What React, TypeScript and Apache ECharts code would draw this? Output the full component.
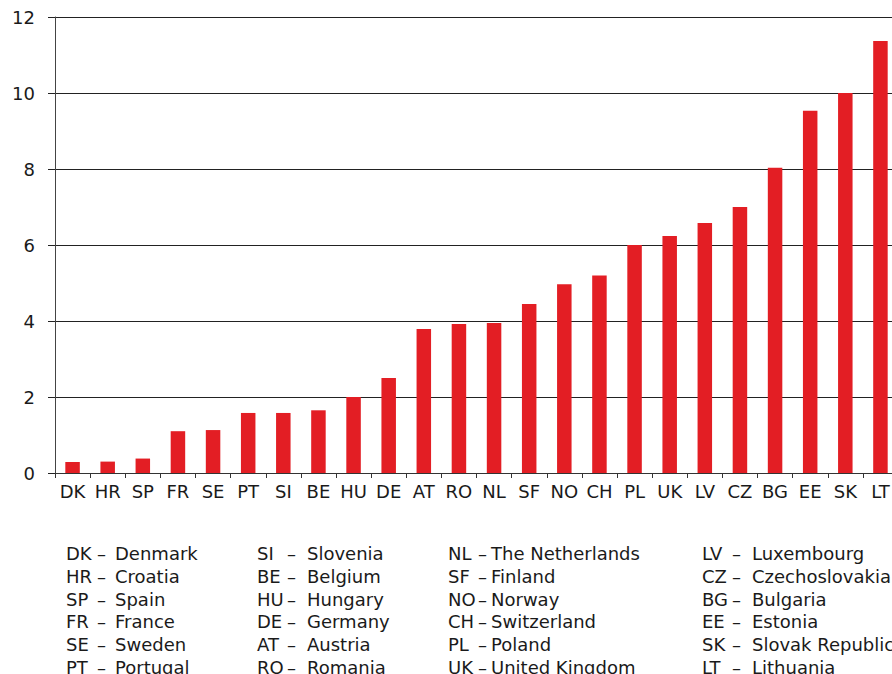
import React, { useEffect, useRef } from "react";
import * as echarts from "echarts";

const codes = ["DK","HR","SP","FR","SE","PT","SI","BE","HU","DE","AT","RO","NL","SF","NO","CH","PL","UK","LV","CZ","BG","EE","SK","LT"];
const names = ["Denmark","Croatia","Spain","France","Sweden","Portugal","Slovenia","Belgium","Hungary","Germany","Austria","Romania","The Netherlands","Finland","Norway","Switzerland","Poland","United Kingdom","Luxembourg","Czechoslovakia","Bulgaria","Estonia","Slovak Republic","Lithuania"];
const values = [0.29,0.3,0.38,1.1,1.13,1.58,1.58,1.65,2.0,2.5,3.79,3.92,3.95,4.45,4.97,5.2,6.0,6.24,6.58,7.0,8.03,9.53,10.0,11.37];
const yTicks = [0, 2, 4, 6, 8, 10, 12];

const FONT = "DejaVu Sans";
const TEXT = "#1a1a1a";

export default function App() {
  const ref = useRef<HTMLDivElement>(null);
  useEffect(() => {
    document.body.style.margin = "0";
    document.body.style.overflow = "hidden";
    if (!ref.current) return;
    const chart = echarts.init(ref.current, undefined, { renderer: "svg" });

    const colX = [
      { code: 66, dash: 97, name: 115 },
      { code: 257, dash: 287, name: 307 },
      { code: 448, dash: 478, name: 491 },
      { code: 702, dash: 732, name: 752 },
    ];
    const graphics: any[] = [];
    codes.forEach((c, i) => {
      const col = Math.floor(i / 6);
      const row = i % 6;
      const y = 553.5 + row * 22.8;
      const cx = colX[col];
      const st = { fontSize: 18, fontFamily: FONT, fill: TEXT, textVerticalAlign: "middle" };
      graphics.push({ type: "text", x: cx.code, y, style: { ...st, text: c } });
      graphics.push({ type: "text", x: cx.dash, y, style: { ...st, text: "–" } });
      graphics.push({ type: "text", x: cx.name, y, style: { ...st, text: names[i] } });
    });

    chart.setOption({
      animation: false,
      grid: { left: 55, top: 17, right: 0, bottom: 201, containLabel: false },
      xAxis: {
        type: "category",
        data: codes,
        boundaryGap: true,
        axisLine: { show: true, lineStyle: { color: "#333", width: 1 } },
        axisTick: { show: true, length: 5, lineStyle: { color: "#333" } },
        axisLabel: { fontFamily: FONT, fontSize: 18, color: TEXT, margin: 9, interval: 0 },
      },
      yAxis: {
        type: "value",
        min: yTicks[0],
        max: yTicks[yTicks.length - 1],
        interval: 2,
        axisLine: { show: true, lineStyle: { color: "#444", width: 1 } },
        axisTick: { show: true, length: 7, lineStyle: { color: "#222" } },
        splitLine: { show: true, lineStyle: { color: "#222", width: 1 } },
        axisLabel: { fontFamily: FONT, fontSize: 18, color: TEXT, margin: 20 },
      },
      series: [
        {
          type: "bar",
          data: values,
          barWidth: 14.5,
          itemStyle: { color: "#e31e24" },
        },
      ],
      graphic: graphics,
    });
    return () => chart.dispose();
  }, []);
  return <div ref={ref} style={{ width: 898, height: 674 }} />;
}
